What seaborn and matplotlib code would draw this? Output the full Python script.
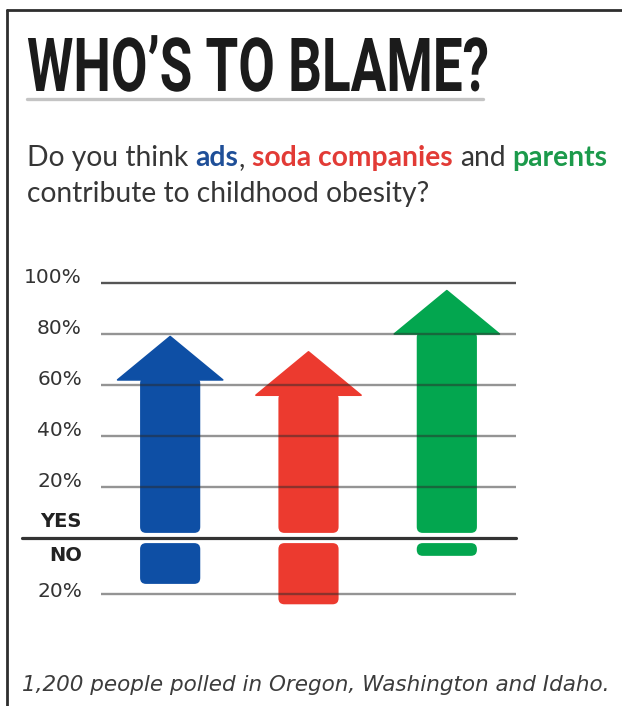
import matplotlib
matplotlib.use("Agg")
import matplotlib.pyplot as plt
import matplotlib.patheffects as pe
import seaborn as sns
import pandas as pd
from matplotlib.patches import FancyBboxPatch, Polygon
from matplotlib.lines import Line2D
from matplotlib.transforms import Affine2D, blended_transform_factory

# Values (percent)
categories = ["ads", "soda companies", "parents"]
yes_values = [79, 73, 97]   # tip of each arrow
no_values = [16, 24, 5]
colors = ["#0e4fa5", "#ec3a2f", "#03a64f"]
tick_values = [20, 40, 60, 80, 100]
tick_labels = ["20%", "40%", "60%", "80%", "100%"]
no_tick = 20

GAP = 2      # white gap each side of the YES/NO line
HEAD = 17    # arrow head height, percent units

W, H = 622, 706
sns.set_theme(style="white")
plt.rcParams["font.family"] = ["Lato", "DejaVu Sans"]

fig = plt.figure(figsize=(W / 100, H / 100), dpi=100)
fig.patch.set_facecolor("white")


def fx(px):
    return px / W


def fy(py):
    return 1 - py / H


# axes: 3 categories over 415 px, -30..105 % over 344 px
ax = fig.add_axes([fx(101), fy(614.5), 415 / W, 344.25 / H])

df = pd.DataFrame({"who": categories, "yes": yes_values, "no": no_values})
df["shaft"] = df["yes"] - HEAD + 1
df["no_neg"] = -(df["no"] + GAP)

sns.barplot(data=df, x="who", y="shaft", hue="who", palette=colors, saturation=1,
            width=0.435, errorbar=None, legend=False, ax=ax)
yes_bars = list(ax.patches)
sns.barplot(data=df, x="who", y="no_neg", hue="who", palette=colors, saturation=1,
            width=0.435, errorbar=None, legend=False, ax=ax)
no_bars = [p for p in ax.patches if p not in yes_bars]

X_PX = 415 / 3
Y_PX = 344.25 / 135
R = 6 / X_PX
ASPECT = X_PX / Y_PX


def rounded(p, y0, h):
    box = FancyBboxPatch((p.get_x(), y0), p.get_width(), h,
                         boxstyle=f"round,pad=0,rounding_size={R}",
                         mutation_aspect=ASPECT, fc=p.get_facecolor(),
                         ec="none", zorder=2)
    p.remove()
    ax.add_patch(box)


HEAD_W = 0.76
for p, tip in zip(sorted(yes_bars, key=lambda b: b.get_x()), yes_values):
    xc = p.get_x() + p.get_width() / 2
    base = tip - HEAD
    ax.add_patch(Polygon([(xc - HEAD_W / 2, base), (xc + HEAD_W / 2, base), (xc, tip)],
                         closed=True, fc=p.get_facecolor(), ec=p.get_facecolor(),
                         lw=1.2, joinstyle="round", zorder=2))
    rounded(p, GAP, base + 1 - GAP)

for p, v in zip(sorted(no_bars, key=lambda b: b.get_x()), no_values):
    rounded(p, -(GAP + v), v)

# grid lines sit on top of the arrows
for v in tick_values:
    ax.axhline(v, color="#2b2b2b", lw=1.7, alpha=0.8 if v == 100 else 0.5, zorder=4)
ax.axhline(-(no_tick + GAP), color="#2b2b2b", lw=1.7, alpha=0.5, zorder=4)
ax.axhline(0, xmin=(22 - 101) / 415, xmax=1, color="#333333", lw=2.3,
           clip_on=False, zorder=5)

lab = blended_transform_factory(ax.transAxes, ax.transData)
lx = (82 - 101) / 415
tick_font = dict(transform=lab, ha="right", va="center", family=["DejaVu Sans"])
for v, s in zip(tick_values, tick_labels):
    ax.text(lx, v + 2, s, fontsize=14.5, color="#333333", **tick_font)
ax.text(lx, 6.3, "YES", fontsize=14, fontweight="bold", color="#222222", **tick_font)
ax.text(lx, -6.9, "NO", fontsize=14, fontweight="bold", color="#222222", **tick_font)
ax.text(lx, -(no_tick + GAP) + 1.2, f"{no_tick}%", fontsize=14.5, color="#333333",
        **tick_font)

ax.set_xlim(-0.5, 2.5)
ax.set_ylim(-30, 105)
ax.set_axis_off()


class Stretch(pe.AbstractPathEffect):
    """Rescale glyphs around an anchor point (display px)."""

    def __init__(self, sx, sy, x0, y0):
        super().__init__()
        self.sx, self.sy, self.x0, self.y0 = sx, sy, x0, y0

    def draw_path(self, renderer, gc, tpath, affine, rgbFace=None):
        t = affine + (Affine2D().translate(-self.x0, -self.y0)
                      .scale(self.sx, self.sy).translate(self.x0, self.y0))
        renderer.draw_path(gc, tpath, t, rgbFace)


# title: Roboto Bold pulled into a tall condensed shape
TITLE_FS = 40
title = fig.text(fx(27), fy(91), "WHO’S TO BLAME?", fontsize=TITLE_FS, fontweight="bold",
                 color="#1b1b1b", va="baseline", ha="left",
                 family=["Roboto", "DejaVu Sans"])
fig.canvas.draw()
rend = fig.canvas.get_renderer()
bb = title.get_window_extent(renderer=rend)
cap_px = 0.711 * TITLE_FS * 100 / 72
title.set_path_effects([Stretch(462 / bb.width, 53 / cap_px, bb.x0, H - 91)])

fig.add_artist(Line2D([fx(27), fx(483)], [fy(99), fy(99)], color="#c4c4c4", lw=2.4))

# question, with the three coloured keywords
seg = [("Do you think", "#363636", "normal"), (" ", None, None),
       ("ads", "#1f4f98", "bold"), (",", "#363636", "normal"), (" ", None, None),
       ("soda companies", "#e23b36", "bold"), (" ", None, None),
       ("and", "#363636", "normal"), (" ", None, None),
       ("parents", "#1c9a4b", "bold")]
SUB_FS = 20.3
probe1 = fig.text(0, 0, "a a", fontsize=SUB_FS)
probe2 = fig.text(0, 0, "aa", fontsize=SUB_FS)
space_w = probe1.get_window_extent(rend).width - probe2.get_window_extent(rend).width
probe1.remove()
probe2.remove()

cur = 27
for s, c, wgt in seg:
    if s == " ":
        cur += space_w
        continue
    t = fig.text(fx(cur), fy(166), s, fontsize=SUB_FS, color=c, fontweight=wgt,
                 va="baseline", ha="left")
    cur += t.get_window_extent(rend).width
fig.text(fx(27), fy(202), "contribute to childhood obesity?", fontsize=SUB_FS,
         color="#363636", va="baseline", ha="left")

fig.text(fx(22), fy(691), "1,200 people polled in Oregon, Washington and Idaho.",
         fontsize=15.5, style="italic", color="#3c3c3c", va="baseline", ha="left",
         family=["DejaVu Sans"])

# frame on the left and top
fig.add_artist(Line2D([fx(7), fx(7)], [0, fy(10)], color="#2e2e2e", lw=2))
fig.add_artist(Line2D([fx(7), 1], [fy(10), fy(10)], color="#2e2e2e", lw=2))

fig.savefig("out.png", dpi=100, facecolor="white")
